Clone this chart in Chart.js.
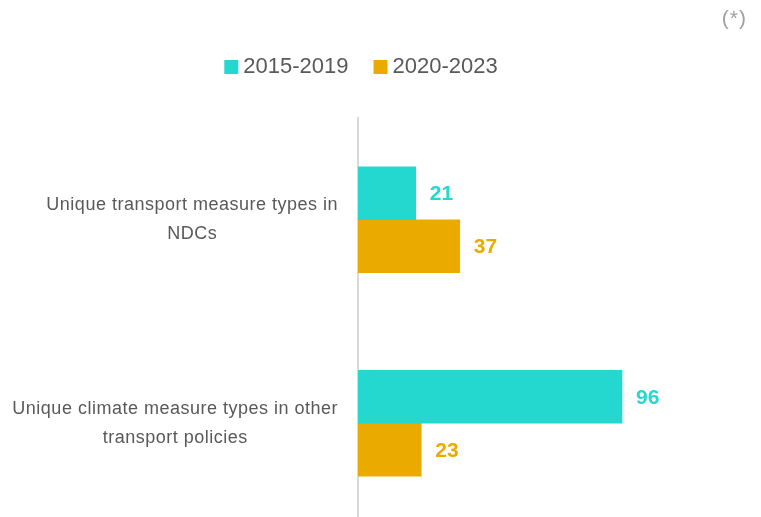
<!DOCTYPE html>
<html>
<head>
<meta charset="utf-8">
<script src="https://cdn.jsdelivr.net/npm/chart.js@4"></script>
<style>
  html, body { margin: 0; padding: 0; background: #ffffff; overflow: hidden; }
  #wrap { width: 761px; height: 517px; overflow: hidden; }
  canvas { display: block; }
</style>
</head>
<body>
<div id="wrap"><canvas id="chart" width="761" height="525"></canvas></div>
<script>
// Categories (multi-line labels) and series values
const categories = [
  ['Unique transport measure types in', 'NDCs'],
  ['Unique climate measure types in other', 'transport policies']
];
const seriesLabels = ['2015-2019', '2020-2023'];
const values2015_2019 = [21, 96];
const values2020_2023 = [37, 23];
const seriesColors = ['#25D8CF', '#EAAA00'];
const noteText = '(*)';

const TEXT_GREY = '#595959';

// Legend, category labels, value labels and the note, drawn on the canvas
const annotations = {
  id: 'annotations',
  afterDraw(chart) {
    const ctx = chart.ctx;
    const yScale = chart.scales.y;

    // note in the top-right corner
    ctx.save();
    ctx.font = '21px "Liberation Sans", Arial, sans-serif';
    ctx.fillStyle = '#a0a0a0';
    ctx.textAlign = 'right';
    ctx.textBaseline = 'alphabetic';
    ctx.letterSpacing = '1px';
    ctx.fillText(noteText, 747, 25);
    ctx.restore();

    // legend
    ctx.save();
    ctx.font = '22px "Liberation Sans", Arial, sans-serif';
    ctx.textBaseline = 'alphabetic';
    ctx.textAlign = 'left';
    const box = 14, gap = 5, itemGap = 25;
    const widths = seriesLabels.map(t => box + gap + ctx.measureText(t).width);
    const total = widths.reduce((a, b) => a + b, 0) + itemGap * (widths.length - 1);
    let lx = 361 - total / 2;
    seriesLabels.forEach((t, i) => {
      ctx.fillStyle = seriesColors[i];
      ctx.fillRect(lx, 60, box, box);
      ctx.fillStyle = TEXT_GREY;
      ctx.fillText(t, lx + box + gap, 72.5);
      lx += widths[i] + itemGap;
    });
    ctx.restore();

    // category labels, each block centred on its widest line, right edge fixed
    ctx.save();
    ctx.font = '18px "Liberation Sans", Arial, sans-serif';
    ctx.fillStyle = TEXT_GREY;
    ctx.textAlign = 'center';
    ctx.textBaseline = 'middle';
    ctx.letterSpacing = '0.5px';
    const lineH = 29;
    const rightEdge = 338;
    categories.forEach((lines, i) => {
      const cy = yScale.getPixelForTick(i);
      const maxW = Math.max(...lines.map(l => ctx.measureText(l).width));
      const cx = rightEdge - maxW / 2;
      const top = cy - (lines.length - 1) * lineH / 2;
      lines.forEach((l, j) => ctx.fillText(l, cx, top + j * lineH));
    });
    ctx.restore();

    // value labels at the end of each bar
    ctx.save();
    ctx.font = 'bold 21px "Liberation Sans", Arial, sans-serif';
    ctx.textAlign = 'left';
    ctx.textBaseline = 'middle';
    chart.data.datasets.forEach((ds, di) => {
      const meta = chart.getDatasetMeta(di);
      meta.data.forEach((bar, i) => {
        ctx.fillStyle = ds.backgroundColor;
        ctx.fillText(String(ds.data[i]), bar.x + 14, bar.y + 1);
      });
    });
    ctx.restore();
  }
};

const barShape = { barThickness: 53, borderWidth: 0 };

new Chart(document.getElementById('chart'), {
  type: 'bar',
  data: {
    labels: categories,
    datasets: [
      Object.assign({ label: seriesLabels[0], data: values2015_2019, backgroundColor: seriesColors[0] }, barShape),
      Object.assign({ label: seriesLabels[1], data: values2020_2023, backgroundColor: seriesColors[1] }, barShape)
    ]
  },
  options: {
    indexAxis: 'y',
    responsive: false,
    animation: false,
    devicePixelRatio: 1,
    layout: { padding: { left: 358, right: 18, top: 118, bottom: 0 } },
    scales: {
      x: { display: false, min: 0, max: 140 },
      y: {
        type: 'category',
        ticks: { display: false },
        grid: { display: false, drawTicks: false },
        border: { display: true, color: '#d9d9d9', width: 2 }
      }
    },
    plugins: {
      legend: { display: false },
      title: { display: false },
      tooltip: { enabled: false }
    }
  },
  plugins: [annotations]
});
</script>
</body>
</html>
